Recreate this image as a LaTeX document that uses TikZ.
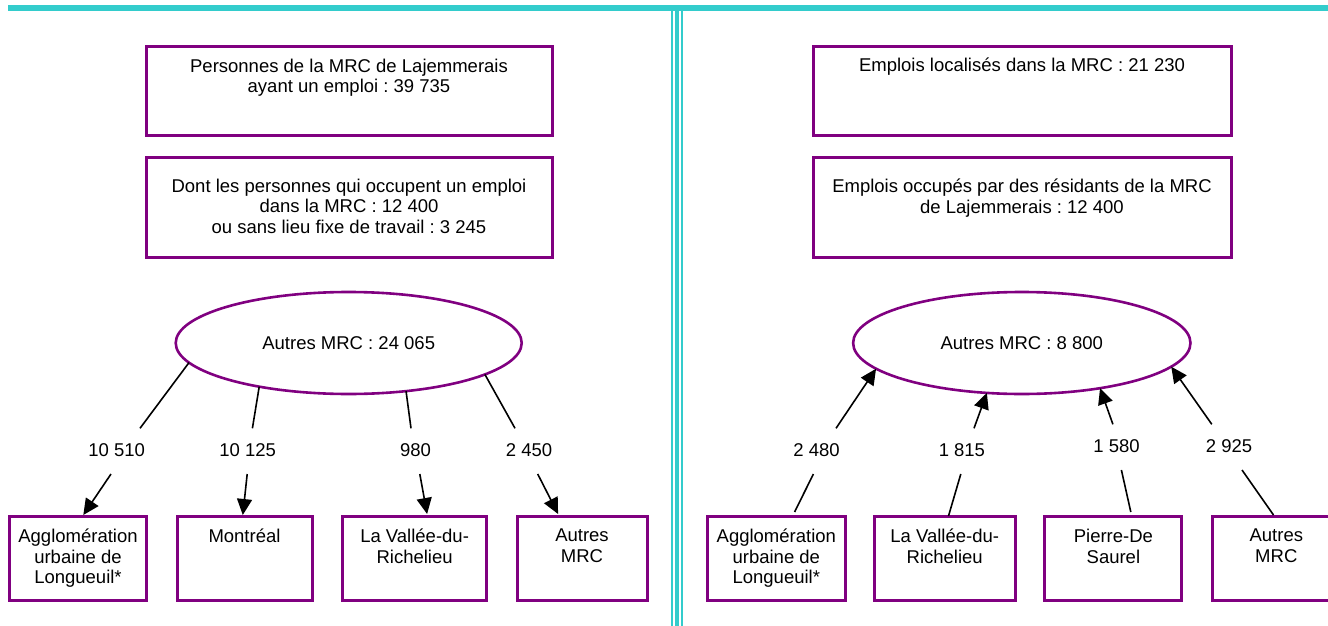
\documentclass[tikz,border=0pt]{standalone}
\usepackage{fontspec}
\setmainfont{Liberation Sans}
\usetikzlibrary{arrows.meta,shapes.geometric}
\definecolor{violetMRC}{HTML}{800080}
\definecolor{cyanMRC}{HTML}{33CCCC}
\tikzset{
  boite/.style={draw=violetMRC, line width=3pt, inner sep=0pt, outer sep=0pt},
  bulle/.style={ellipse, draw=violetMRC, line width=2.6pt, inner sep=0pt, outer sep=0pt,
    minimum width=346pt, minimum height=102pt},
  texte/.style={anchor=north, align=center, inner sep=0pt},
  nb/.style={inner sep=0pt},
  lien/.style={line width=1.6pt},
  fleche/.style={line width=1.6pt, -{Triangle[length=16pt,width=15pt]}},
}
\frenchspacing
\begin{document}
\begin{tikzpicture}[x=1pt, y=-1pt, font=\fontsize{18.5}{20.5}\selectfont]
  \useasboundingbox (0,0) rectangle (1328,626);
  \clip (0,0) rectangle (1328,626);
  % bandeau et separation
  \fill[cyanMRC] (8,5) rectangle (1328,11.5);
  \fill[cyanMRC] (670.7,11) rectangle (672.7,626);
  \fill[cyanMRC] (674.8,11) rectangle (678.8,626);
  \fill[cyanMRC] (680.7,11) rectangle (682.7,626);

  % gauche : lieu de travail des residents
  \node[boite, minimum width=406pt, minimum height=88pt] (persG) at (349,91) {};
  \node[texte] (persGt) at ([yshift=-11.5pt]persG.north) {Personnes de la MRC de Lajemmerais\\ayant un emploi : 39 735};
  \node[boite, minimum width=406pt, minimum height=100pt] (dontG) at (349,207.5) {};
  \node[texte] (dontGt) at ([yshift=-21pt]dontG.north) {Dont les personnes qui occupent un emploi\\dans la MRC : 12 400\\ou sans lieu fixe de travail : 3 245};
  \node[bulle] (autresG) at (348.7,343) {Autres MRC : 24 065};

  \node[nb] (nLongG) at (116.7,450) {10 510};
  \node[nb] (nMtl) at (247.6,450) {10 125};
  \node[nb] (nRichG) at (415.5,450) {980};
  \node[nb] (nAutG) at (529,450) {2 450};

  \node[boite, minimum width=137pt, minimum height=84pt] (longG) at (78,558) {};
  \node[texte] (longGt) at ([yshift=-13pt]longG.north) {Agglomération\\urbaine de\\Longueuil*};
  \node[boite, minimum width=135pt, minimum height=84pt] (mtl) at (244.5,558) {};
  \node[texte] (mtlt) at ([yshift=-13pt]mtl.north) {Montréal};
  \node[boite, minimum width=144pt, minimum height=84pt] (richG) at (414.6,558) {};
  \node[texte] (richGt) at ([yshift=-13pt]richG.north) {La Vallée-du-\\Richelieu};
  \node[boite, minimum width=130pt, minimum height=84pt] (autG) at (582,558) {};
  \node[texte] (autGt) at ([yshift=-13pt]autG.north) {Autres\\MRC};

  \draw[lien] (autresG.-173.5) -- ([shift={(23.3,-21.7)}]nLongG.center);
  \draw[lien] (autresG.-154.6) -- ([shift={(4.8,-21.7)}]nMtl.center);
  \draw[lien] (autresG.-40.6) -- ([shift={(-4.5,-21.7)}]nRichG.center);
  \draw[lien] (autresG.-13.7) -- ([shift={(-14,-21.7)}]nAutG.center);
  \draw[fleche] ([shift={(-5.7,24)}]nLongG.center) -- ([shift={(5.3,-1)}]longG.north);
  \draw[fleche] ([shift={(-0.4,24)}]nMtl.center) -- ([shift={(-1.7,-1)}]mtl.north);
  \draw[fleche] ([shift={(4.3,24)}]nRichG.center) -- ([shift={(12.5,-2)}]richG.north);
  \draw[fleche] ([shift={(8.7,24)}]nAutG.center) -- ([shift={(-23.9,-2)}]autG.north);

  % droite : provenance des travailleurs
  \node[boite, minimum width=418pt, minimum height=88pt] (emplD) at (1022,91) {};
  \node[texte] (emplDt) at ([yshift=-11pt]emplD.north) {Emplois localisés dans la MRC : 21 230};
  \node[boite, minimum width=418pt, minimum height=100pt] (occD) at (1022,207.5) {};
  \node[texte] (occDt) at ([yshift=-21.5pt]occD.north) {Emplois occupés par des résidants de la MRC\\de Lajemmerais : 12 400};
  \node[bulle, minimum width=337.4pt] (autresD) at (1021.8,343) {Autres MRC : 8 800};

  \node[nb] (nLongD) at (816.6,450) {2 480};
  \node[nb] (nRichD) at (961.9,450) {1 815};
  \node[nb] (nSaurel) at (1116.5,445.7) {1 580};
  \node[nb] (nAutD) at (1229,445.7) {2 925};

  \node[boite, minimum width=138pt, minimum height=84pt] (longD) at (776.3,558) {};
  \node[texte] (longDt) at ([yshift=-13pt]longD.north) {Agglomération\\urbaine de\\Longueuil*};
  \node[boite, minimum width=141pt, minimum height=84pt] (richD) at (944.7,558) {};
  \node[texte] (richDt) at ([yshift=-13pt]richD.north) {La Vallée-du-\\Richelieu};
  \node[boite, minimum width=137pt, minimum height=84pt] (saurel) at (1113.4,558) {};
  \node[texte] (saurelt) at ([yshift=-13pt]saurel.north) {Pierre-De\\Saurel};
  \node[boite, minimum width=127.4pt, minimum height=84pt] (autD) at (1276.3,558) {};
  \node[texte] (autDt) at ([yshift=-13pt]autD.north) {Autres\\MRC};

  \draw[lien] ([shift={(18.3,-4)}]longD.north) -- ([shift={(-3.2,24)}]nLongD.center);
  \draw[lien] ([shift={(3.8,0)}]richD.north) -- ([shift={(-1.1,24)}]nRichD.center);
  \draw[lien] ([shift={(17.4,-4)}]saurel.north) -- ([shift={(4.9,24.3)}]nSaurel.center);
  \draw[lien] ([shift={(-2.8,-1)}]autD.north) -- ([shift={(13,24.3)}]nAutD.center);
  \draw[fleche] ([shift={(19.4,-21.7)}]nLongD.center) -- (autresD.-170.7);
  \draw[fleche] ([shift={(12.1,-21.7)}]nRichD.center) -- (autresD.-125.3);
  \draw[fleche] ([shift={(-3.6,-21.4)}]nSaurel.center) -- (autresD.-30.1);
  \draw[fleche] ([shift={(-17.2,-21.4)}]nAutD.center) -- (autresD.-9.5);
\end{tikzpicture}
\end{document}
